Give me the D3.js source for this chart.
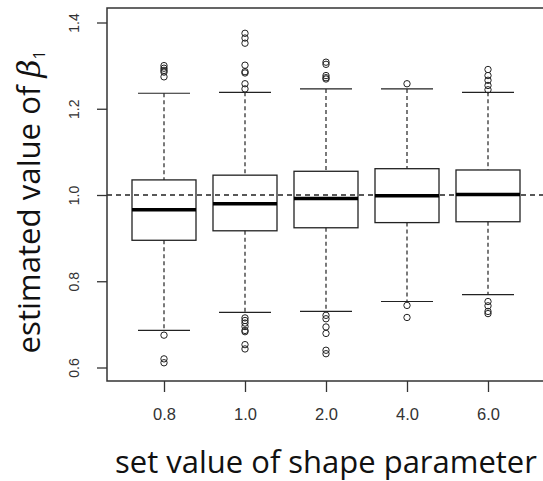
<!DOCTYPE html>
<html>
<head>
<meta charset="utf-8">
<script src="https://cdn.jsdelivr.net/npm/d3@7"></script>
<style>
  body { margin: 0; background: #fff; }
  svg { display: block; }
</style>
</head>
<body>
<div id="chart"></div>
<script>
// shape parameter settings
const categories = ["0.8", "1.0", "2.0", "4.0", "6.0"];

// box statistics
const lowerWhisker = [0.686, 0.728, 0.730, 0.753, 0.769];
const q1 = [0.895, 0.917, 0.924, 0.936, 0.938];
const median = [0.966, 0.980, 0.992, 0.998, 1.001];
const q3 = [1.035, 1.046, 1.055, 1.061, 1.058];
const upperWhisker = [1.236, 1.238, 1.246, 1.246, 1.238];

// outliers per group
const outliers = [
  [1.300, 1.294, 1.289, 1.285, 1.274, 0.675, 0.620, 0.611],
  [1.375, 1.364, 1.352, 1.301, 1.286, 1.283, 1.258, 1.246,
   0.715, 0.709, 0.703, 0.695, 0.686, 0.683, 0.653, 0.643],
  [1.308, 1.303, 1.277, 1.272, 1.269, 0.721, 0.713, 0.694, 0.679, 0.640, 0.632],
  [1.258, 0.744, 0.716],
  [1.291, 1.277, 1.266, 1.254, 1.244, 0.753, 0.743, 0.730, 0.725]
];

const yTicks = [0.6, 0.8, 1.0, 1.2, 1.4];
const trueValue = 1.0;

const width = 543;
const height = 481;
const frame = { left: 107, top: 8, bottom: 381 };

const svg = d3.select("#chart")
  .append("svg")
  .attr("width", width)
  .attr("height", height);

const x = d3.scalePoint()
  .domain(categories)
  .range([164, 488]);

const y = d3.scaleLinear()
  .domain([0.6, 1.4])
  .range([367.5, 22.5]);

const boxW = 64;
const capW = 52;
const ink = "#222";

const groups = categories.map((c, i) => ({
  cat: c,
  lo: lowerWhisker[i], q1: q1[i], med: median[i], q3: q3[i], hi: upperWhisker[i],
  out: outliers[i]
}));

// reference line at the true value
svg.append("line")
  .attr("x1", frame.left)
  .attr("x2", width)
  .attr("y1", y(trueValue))
  .attr("y2", y(trueValue))
  .attr("stroke", ink)
  .attr("stroke-width", 1.3)
  .attr("stroke-dasharray", "5,4");

const g = svg.append("g")
  .selectAll("g")
  .data(groups)
  .enter().append("g")
  .attr("transform", d => `translate(${x(d.cat)},0)`);

// whiskers (dashed)
g.append("line")
  .attr("y1", d => y(d.hi)).attr("y2", d => y(d.q3))
  .attr("stroke", ink).attr("stroke-width", 1.2).attr("stroke-dasharray", "4,3");
g.append("line")
  .attr("y1", d => y(d.q1)).attr("y2", d => y(d.lo))
  .attr("stroke", ink).attr("stroke-width", 1.2).attr("stroke-dasharray", "4,3");

// caps
g.append("line")
  .attr("x1", -capW / 2).attr("x2", capW / 2)
  .attr("y1", d => y(d.hi)).attr("y2", d => y(d.hi))
  .attr("stroke", ink).attr("stroke-width", 1.2);
g.append("line")
  .attr("x1", -capW / 2).attr("x2", capW / 2)
  .attr("y1", d => y(d.lo)).attr("y2", d => y(d.lo))
  .attr("stroke", ink).attr("stroke-width", 1.2);

// box
g.append("rect")
  .attr("x", -boxW / 2)
  .attr("width", boxW)
  .attr("y", d => y(d.q3))
  .attr("height", d => y(d.q1) - y(d.q3))
  .attr("fill", "none")
  .attr("stroke", ink)
  .attr("stroke-width", 1.3);

// median
g.append("line")
  .attr("x1", -boxW / 2).attr("x2", boxW / 2)
  .attr("y1", d => y(d.med)).attr("y2", d => y(d.med))
  .attr("stroke", "#000").attr("stroke-width", 3.5);

// outliers
g.selectAll("circle")
  .data(d => d.out)
  .enter().append("circle")
  .attr("cx", 0)
  .attr("cy", v => y(v))
  .attr("r", 3.2)
  .attr("fill", "none")
  .attr("stroke", ink)
  .attr("stroke-width", 1);

// plot frame (right side runs past the window edge)
svg.append("path")
  .attr("d", `M${width + 10},${frame.top}H${frame.left}V${frame.bottom}H${width + 10}`)
  .attr("fill", "none")
  .attr("stroke", "#333")
  .attr("stroke-width", 1.5);

// y axis ticks and labels (rotated like base R)
svg.append("g")
  .attr("transform", `translate(${frame.left},0)`)
  .call(d3.axisLeft(y).tickValues(yTicks).tickFormat(d3.format(".1f")).tickSize(10))
  .call(a => a.select(".domain").remove())
  .call(a => a.selectAll("line").attr("stroke", "#333").attr("stroke-width", 1.3))
  .call(a => a.selectAll("text")
    .attr("font-family", "Liberation Sans, Arial, sans-serif")
    .attr("font-size", 14)
    .attr("fill", "#333")
    .attr("transform", "rotate(-90)")
    .attr("x", 0)
    .attr("y", -28)
    .attr("dy", 0)
    .attr("text-anchor", "middle"));

// x axis ticks and labels
svg.append("g")
  .attr("transform", `translate(0,${frame.bottom})`)
  .call(d3.axisBottom(x).tickSize(11).tickPadding(0))
  .call(a => a.select(".domain").remove())
  .call(a => a.selectAll("line").attr("stroke", "#333").attr("stroke-width", 1.3))
  .call(a => a.selectAll("text")
    .attr("font-family", "Liberation Sans, Arial, sans-serif")
    .attr("font-size", 16.5)
    .attr("fill", "#333")
    .attr("y", 39)
    .attr("dy", 0));

// axis titles
const xTitle = svg.append("text")
  .attr("x", 326)
  .attr("y", 473)
  .attr("text-anchor", "middle")
  .attr("font-family", "Open Sans, sans-serif")
  .attr("font-size", 28)
  .attr("fill", "#111")
  .text("set value of shape parameter");
const xw = xTitle.node().getComputedTextLength();
xTitle.attr("font-size", 28 * 422 / xw);

const yTitle = svg.append("text")
  .attr("transform", "translate(40,202) rotate(-90)")
  .attr("text-anchor", "middle")
  .attr("font-family", "Open Sans, sans-serif")
  .attr("font-size", 28)
  .attr("fill", "#111");
yTitle.append("tspan").text("estimated value of ");
yTitle.append("tspan")
  .attr("font-family", "DejaVu Serif, serif")
  .attr("font-style", "italic")
  .text("β");
yTitle.append("tspan")
  .attr("font-size", "0.5em")
  .attr("dy", "0.35em")
  .text("1");
const yw = yTitle.node().getComputedTextLength();
yTitle.attr("font-size", 28 * 303 / yw);
</script>
</body>
</html>
